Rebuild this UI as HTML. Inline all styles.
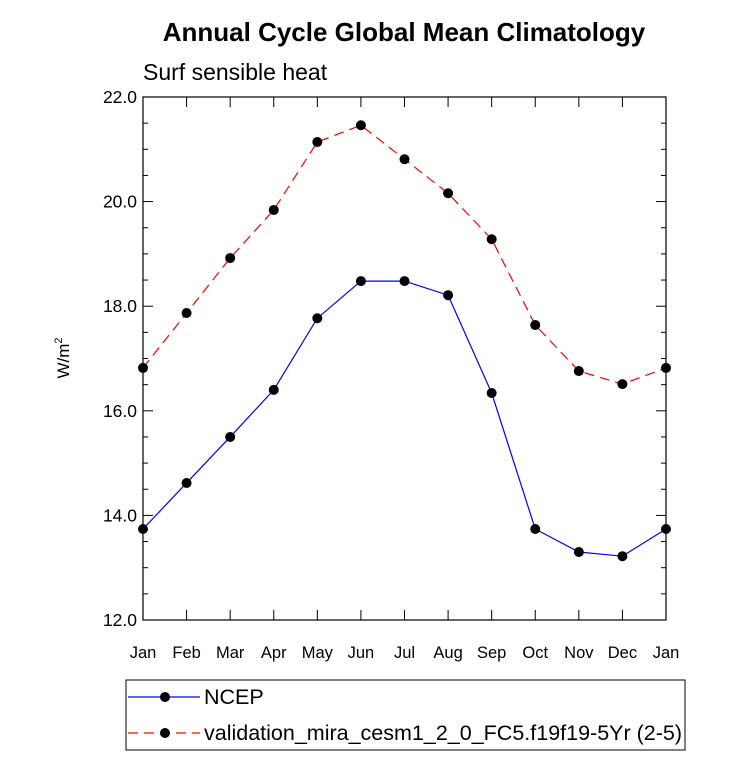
<!DOCTYPE html>
<html><head><meta charset="utf-8"><style>
body{margin:0;background:#fff;}
svg{display:block;font-family:"Liberation Sans",Arial,sans-serif;}
</style></head><body>
<svg id="chart" width="733" height="770" viewBox="0 0 733 770">
<text x="404" y="41" text-anchor="middle" font-size="26" font-weight="bold">Annual Cycle Global Mean Climatology</text>
<text x="143" y="80" font-size="23">Surf sensible heat</text>
<text transform="translate(69,358) rotate(-90)" text-anchor="middle" font-size="17">W/m<tspan font-size="11" dy="-7">2</tspan></text>
<g id="axes"></g>
<g id="series"></g>
<rect x="126" y="680" width="559" height="70" fill="none" stroke="#000" stroke-width="1"/>
<g>
<line x1="128" y1="697" x2="200" y2="697" stroke="#0000ff" stroke-width="1.2"/>
<circle cx="165" cy="697" r="5" fill="#000"/>
<text x="204" y="704" font-size="21.5">NCEP</text>
</g>
<g>
<line x1="128" y1="733" x2="200" y2="733" stroke="#ff0000" stroke-width="1.2" stroke-dasharray="10,6"/>
<circle cx="165" cy="733" r="5" fill="#000"/>
<text x="204" y="740" font-size="21.5">validation_mira_cesm1_2_0_FC5.f19f19-5Yr (2-5)</text>
</g>
</svg>
<script>
const months = ["Jan","Feb","Mar","Apr","May","Jun","Jul","Aug","Sep","Oct","Nov","Dec","Jan"];
const ncepValues = [13.74,14.62,15.5,16.4,17.77,18.48,18.48,18.21,16.34,13.74,13.3,13.22,13.74];
const modelValues = [16.82,17.87,18.92,19.84,21.14,21.46,20.81,20.16,19.28,17.64,16.76,16.51,16.82];
const yTicks = [12,14,16,18,20,22];
const yTickLabels = ["12.0","14.0","16.0","18.0","20.0","22.0"];

const NS="http://www.w3.org/2000/svg";
const L=143,R=666,T=97,B=620,yMin=12,yMax=22;
const xs=i=>L+i*(R-L)/(months.length-1);
const ys=v=>B-(v-yMin)/(yMax-yMin)*(B-T);
function mk(tag,attrs,parent){const e=document.createElementNS(NS,tag);for(const k in attrs)e.setAttribute(k,attrs[k]);parent.appendChild(e);return e;}
const ax=document.getElementById('axes');
const frame=mk('rect',{x:L,y:T,width:R-L,height:B-T,fill:'none',stroke:'#000','stroke-width':1.2},ax);


months.forEach((m,i)=>{
  const x=xs(i);
  const t1=mk('line',{x1:x,y1:B,x2:x,y2:B-10,stroke:'#000'},ax);
  
  
  const t2=mk('line',{x1:x,y1:T,x2:x,y2:T+10,stroke:'#000'},ax);
  
  
  const tx=mk('text',{x:x,y:658,'text-anchor':'middle','font-size':16.5},ax);
  tx.textContent=m;
  
  
});
for(let v=yMin;v<=yMax+1e-9;v+=0.5){
  const y=ys(v),major=Math.abs(v-Math.round(v/2)*2)<1e-9,len=major?10:5;
  const a=mk('line',{x1:L,y1:y,x2:L+len,y2:y,stroke:'#000'},ax);
  
  
  const b=mk('line',{x1:R,y1:y,x2:R-len,y2:y,stroke:'#000'},ax);
  
  
}
yTicks.forEach((v,i)=>{
  const tx=mk('text',{x:L-6,y:ys(v)+6,'text-anchor':'end','font-size':17.5},ax);
  tx.textContent=yTickLabels[i];
  
  
});
const sg=document.getElementById('series');
function drawSeries(vals,color,dash,name){
  const g=mk('g',{},sg);
  
  
  const pl=mk('polyline',{points:vals.map((v,i)=>xs(i)+','+ys(v)).join(' '),fill:'none',stroke:color,'stroke-width':1.2,'stroke-dasharray':dash},g);
  
  
  vals.forEach((v,i)=>{
    const c=mk('circle',{cx:xs(i),cy:ys(v),r:5,fill:'#000'},g);
    
    
  });
}
drawSeries(modelValues,'#ff0000','10,6','model-series');
drawSeries(ncepValues,'#0000ff','none','ncep-series');
</script>
</body></html>
